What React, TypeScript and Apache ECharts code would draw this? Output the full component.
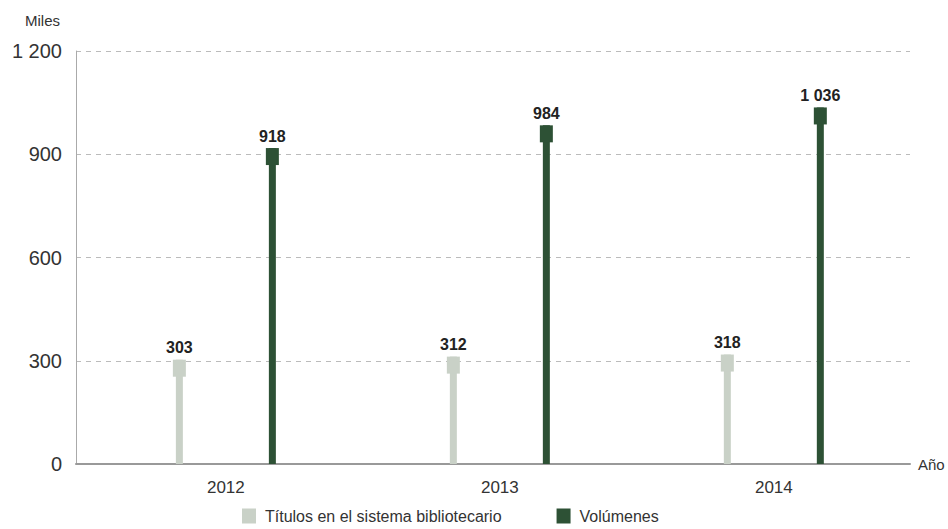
import React, { useEffect, useRef } from "react";
import * as echarts from "echarts";

const years = ["2012", "2013", "2014"];
const titulos = [303, 312, 318];
const volumenes = [918, 984, 1036];
const yTicks = [0, 300, 600, 900, 1200];

const FONT = "'Liberation Sans', Arial, sans-serif";
const LIGHT = "#c9d1c7";
const DARK = "#2d5135";

const fmt = (v: number) => String(v).replace(/\B(?=(\d{3})+(?!\d))/g, " ");

function makeSeries(name: string, values: number[], color: string, offset: number) {
  return {
    name,
    type: "custom",
    itemStyle: { color },
    data: values.map((v, i) => [i, v]),
    renderItem: (params: any, api: any) => {
      const idx = api.value(0);
      const val = api.value(1);
      const top = api.coord([idx, val]);
      const base = api.coord([idx, 0]);
      const cx = top[0] + offset;
      return {
        type: "group",
        children: [
          {
            type: "rect",
            shape: { x: cx - 3.5, y: top[1], width: 7, height: base[1] - top[1] },
            style: { fill: color },
          },
          {
            type: "rect",
            shape: { x: cx - 6.5, y: top[1], width: 13, height: 17 },
            style: { fill: color },
          },
          {
            type: "text",
            style: {
              text: fmt(val),
              x: cx,
              y: top[1] - 4,
              align: "center",
              verticalAlign: "bottom",
              textAlign: "center",
              textVerticalAlign: "bottom",
              fontSize: 16,
              fontWeight: "bold",
              fontFamily: FONT,
              fill: "#222",
            },
          },
        ],
      };
    },
  };
}

export default function App() {
  const ref = useRef<HTMLDivElement>(null);
  useEffect(() => {
    if (!ref.current) return;
    const chart = echarts.init(ref.current, null, { renderer: "svg" });
    chart.setOption({
      animation: false,
      textStyle: { fontFamily: FONT },
      grid: { left: 76, right: 38, top: 51, bottom: 65 },
      graphic: [
        {
          type: "text",
          left: 25,
          top: 13,
          style: { text: "Miles", fontSize: 15, fontFamily: FONT, fill: "#333" },
        },
      ],
      legend: {
        left: 242,
        top: 508,
        padding: 0,
        itemWidth: 14,
        itemHeight: 15,
        itemGap: 55,
        textStyle: { fontSize: 16, color: "#333", fontFamily: FONT, padding: [0, 0, 0, 4] },
        data: [
          { name: "Títulos en el sistema bibliotecario", icon: "rect" },
          { name: "Volúmenes", icon: "rect" },
        ],
      },
      xAxis: {
        type: "value",
        min: -0.547,
        max: 2.497,
        name: "Año",
        nameLocation: "end",
        nameGap: 8,
        nameTextStyle: { fontSize: 15, color: "#333", fontFamily: FONT },
        axisLine: { show: true, onZero: false, lineStyle: { color: "#999", width: 2 } },
        axisTick: { show: false },
        splitLine: { show: false },
        axisLabel: {
          customValues: [0, 1, 2],
          formatter: (v: number) => years[Math.round(v)] ?? "",
          fontSize: 17,
          color: "#333",
          margin: 15,
        },
      },
      yAxis: {
        type: "value",
        min: yTicks[0],
        max: yTicks[yTicks.length - 1],
        interval: 300,
        axisLine: { show: true, onZero: false, lineStyle: { color: "#aaa", width: 1 } },
        axisTick: { show: false },
        axisLabel: { fontSize: 20, color: "#333", margin: 14, formatter: (v: number) => fmt(v) },
        splitLine: { show: true, lineStyle: { color: "#bbb", type: [5, 5], width: 1 } },
      },
      series: [
        makeSeries("Títulos en el sistema bibliotecario", titulos, LIGHT, -46.5),
        makeSeries("Volúmenes", volumenes, DARK, 46.5),
      ],
    });
    return () => chart.dispose();
  }, []);
  return (
    <div
      ref={ref}
      style={{ position: "absolute", left: 0, top: 0, width: 948, height: 529 }}
    />
  );
}
